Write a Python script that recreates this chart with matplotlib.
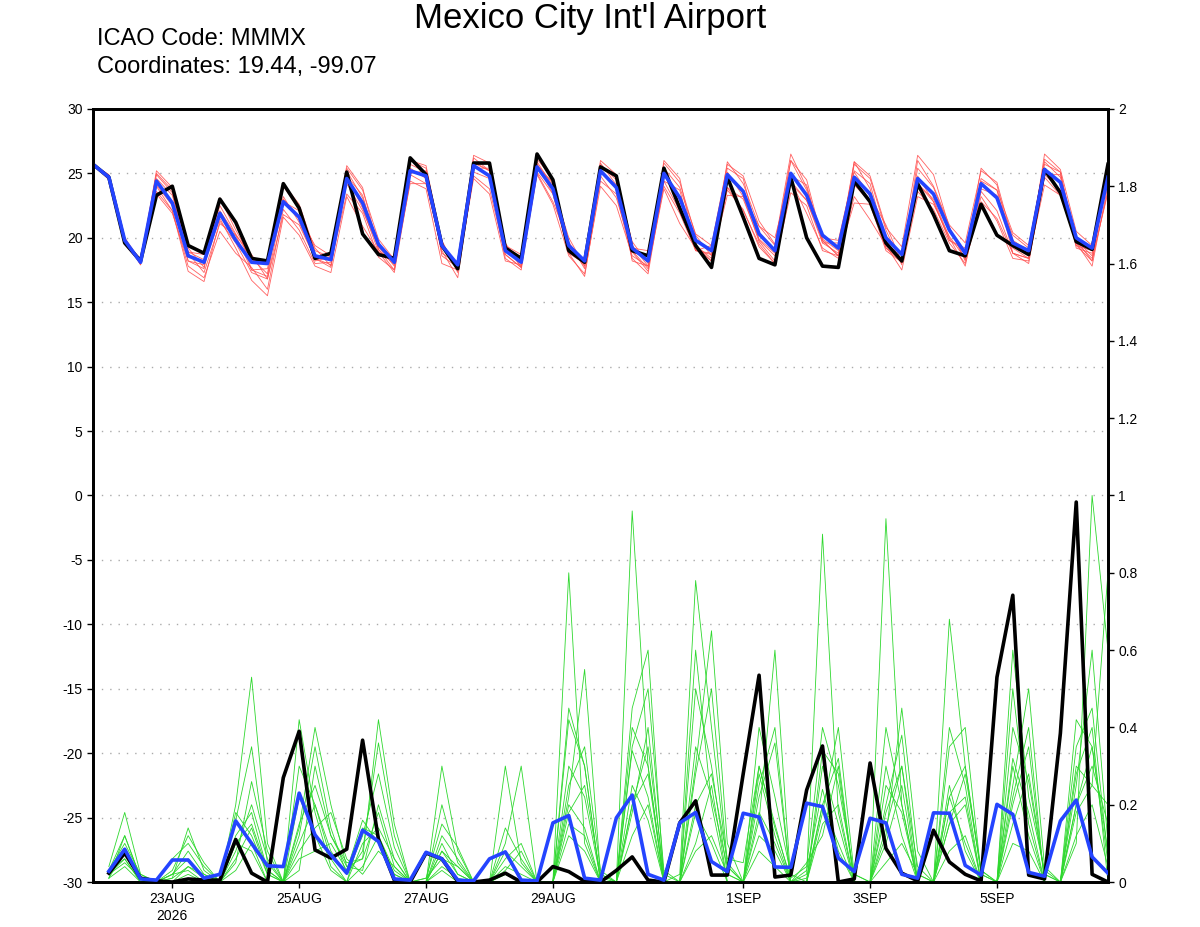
"""Ensemble meteogram: 2 m temperature and precipitation, Mexico City Int'l Airport."""

import matplotlib

matplotlib.use("Agg")
import matplotlib.pyplot as plt
import numpy as np
import pandas as pd

plt.rcParams["font.family"] = ["Liberation Sans", "DejaVu Sans"]
plt.rcParams["axes.unicode_minus"] = False

TIMES = pd.date_range("2026-08-21 18:00", periods=65, freq="6h")

# control run and ensemble mean, 2 m temperature (C)
temp_control = [
    25.7, 24.7, 19.6, 18.2, 23.3, 24.0, 19.4, 18.8, 23.0, 21.2, 18.4, 18.2, 24.2,
    22.3, 18.4, 18.8, 25.1, 20.3, 18.7, 18.4, 26.2, 24.9, 19.4, 17.6, 25.8, 25.8,
    19.2, 18.4, 26.5, 24.5, 19.0, 18.1, 25.5, 24.8, 19.0, 18.6, 25.4, 22.3, 19.4,
    17.7, 24.7, 21.6, 18.4, 17.9, 24.7, 20.0, 17.8, 17.7, 24.4, 22.8, 19.6, 18.2,
    24.2, 21.8, 19.0, 18.6, 22.6, 20.2, 19.4, 18.7, 25.3, 23.5, 19.7, 19.1, 25.7,
]
temp_mean = [
    25.7, 24.7, 19.8, 18.1, 24.4, 22.7, 18.6, 18.1, 21.9, 19.8, 18.1, 18.0, 22.8,
    21.6, 18.6, 18.3, 24.6, 22.7, 19.5, 18.1, 25.2, 24.8, 19.4, 17.9, 25.6, 24.8,
    19.0, 18.1, 25.5, 23.8, 19.4, 18.2, 25.2, 23.9, 19.2, 18.2, 25.0, 23.1, 19.8,
    19.0, 24.9, 23.6, 20.3, 19.0, 25.0, 23.3, 20.2, 19.2, 24.7, 23.4, 20.0, 18.7,
    24.6, 23.4, 20.6, 18.8, 24.2, 23.1, 19.6, 19.0, 25.3, 24.3, 20.0, 19.2, 24.7,
]

# member departures from the ensemble mean, tenths of a degree
temp_dev = [
    [0, 2, -2, 3, 5, 8, -4, -5, 10, 15, -6, -10, 12, 6, -4, 2, 6, 4, -2, 3, 5, 3, -6, 1,
     8, 10, 4, 3, 6, 8, -3, -2, 4, 6, 5, -2, 10, 15, -8, 4, 8, 12, 10, 5, 15, 6, -3, -2,
     12, 14, 8, 6, 18, 15, 2, -5, 12, 10, -4, -6, 12, 10, 5, 2, 10],
    [1, -1, 1, -2, -4, -6, -8, -12, -14, -10, -4, -20, -6, -10, -6, -2, -12, -8, -10, -6,
     -3, -6, 2, -4, -8, -10, -3, -4, -5, -10, 3, -6, -4, -8, -2, -6, -12, -20, -6, -8,
     -10, -15, -8, -10, -6, -14, -10, -8, -15, -20, -6, -12, -14, -8, -5, -4, -10, -18,
     -12, -8, -6, -10, -4, -8, -12],
    [-1, 1, 2, 1, 6, 10, 3, 2, 6, 5, 2, 1, 2, 0, 8, 3, 8, 10, 4, 2, 8, 6, -2, 0, 3, 4, 2,
     -3, 4, 2, 6, -4, 6, 2, 0, 8, 4, 8, 5, 4, 5, 10, -5, -4, 10, 4, -2, 6, 5, 8, -3, -6,
     8, 5, 2, -6, 4, 6, 8, 4, 6, 4, -2, -6, 4],
    [0, -2, -3, -1, -8, -6, -12, -15, -6, -2, -8, -12, -10, -6, -2, -4, -4, -6, -2, -3,
     -10, -6, -4, -10, -5, -2, -6, -6, -4, -4, -6, -12, -8, -5, -8, -10, -6, -10, -4, -6,
     -16, -4, -6, -8, -8, -4, -6, -4, -6, -6, -8, -6, -4, -4, -6, -10, -6, -10, -8, -6,
     -4, -6, -6, -10, -10],
    [0, 1, 1, 0, 8, 12, 6, -4, 12, 8, 3, -8, 14, 10, 4, 2, 10, 12, -4, -2, 8, 8, 2, -2,
     6, 4, 4, 6, 2, -4, -4, -2, 8, 10, -3, -8, 8, 12, 4, -4, 10, 6, 6, 4, 10, 12, -4, -6,
     10, 12, 6, -8, 14, 6, 4, 8, 10, 12, 2, 0, 8, 8, -8, -4, 8],
    [0, -1, -1, 2, -10, -8, -4, -2, -4, -6, -14, -25, -12, -14, -8, -10, -14, -18, -6,
     -8, -8, -10, -14, -4, -10, -14, -8, -2, -6, -12, -8, -10, -12, -14, -6, -4, -10, -12,
     -8, -3, -12, -14, -10, -10, -15, -8, -12, -6, -20, -8, -10, -6, -10, -12, -10, -8,
     -14, -16, -8, -6, -12, -10, -4, -14, -6],
    [0, 0, -2, 1, 2, 6, 3, 6, 2, 4, -6, -4, 4, -4, -2, -6, 2, -4, -6, 0, 2, -2, 4, -6, 2,
     4, 6, -4, -2, 6, -6, -2, 4, 8, -10, -4, -6, 6, -8, -2, 2, -4, 6, 10, -2, 8, -6, 4, 4,
     -2, 10, -6, -4, -6, -8, 4, -4, 2, 6, 2, 4, 8, -6, -2, 6],
    [0, 1, 2, -2, -3, -2, 2, -8, -8, 4, 6, -12, 0, 5, 6, -5, 2, 6, -4, -6, -2, 4, -8, -2,
     -2, 6, -3, -4, 2, 4, -2, -4, 2, 10, 2, -4, 0, -2, -4, -8, -10, -6, -4, -2, -6, -4, -4,
     -6, 12, 4, -8, -4, 2, -6, -8, 2, 2, 6, -8, -10, -4, 6, -2, -10, 2],
]

# 6-hourly precipitation (in), starts one step after the first time
precip_control = [
    0.023, 0.075, 0.010, 0.003, 0.0, 0.008, 0.005, 0.005, 0.110, 0.023, 0.0, 0.270,
    0.390, 0.083, 0.062, 0.085, 0.367, 0.110, 0.005, 0.0, 0.075, 0.060, 0.002, 0.0,
    0.005, 0.023, 0.0, 0.0, 0.040, 0.027, 0.002, 0.0, 0.030, 0.065, 0.005, 0.0, 0.153,
    0.210, 0.018, 0.018, 0.280, 0.535, 0.013, 0.018, 0.238, 0.352, 0.0, 0.008, 0.308,
    0.087, 0.023, 0.003, 0.134, 0.052, 0.020, 0.003, 0.530, 0.742, 0.018, 0.008, 0.385,
    0.983, 0.020, 0.0,
]
precip_mean = [
    0.028, 0.085, 0.008, 0.005, 0.057, 0.057, 0.010, 0.020, 0.158, 0.100, 0.042, 0.040,
    0.230, 0.122, 0.070, 0.023, 0.134, 0.105, 0.008, 0.005, 0.077, 0.060, 0.005, 0.003,
    0.060, 0.078, 0.005, 0.003, 0.153, 0.172, 0.010, 0.005, 0.166, 0.225, 0.020, 0.005,
    0.153, 0.180, 0.053, 0.027, 0.178, 0.168, 0.039, 0.038, 0.204, 0.195, 0.062, 0.027,
    0.165, 0.153, 0.020, 0.010, 0.179, 0.178, 0.043, 0.018, 0.201, 0.175, 0.025, 0.015,
    0.158, 0.212, 0.065, 0.023,
]

# member precipitation, hundredths of an inch
precip_members = [
    [3, 12, 1, 0, 2, 6, 1, 0, 16, 35, 5, 0, 10, 20, 8, 2, 12, 28, 9, 0, 1, 6, 4, 0,
     0, 4, 2, 0, 0, 30, 22, 1, 0, 35, 50, 3, 0, 20, 28, 6, 5, 30, 14, 1, 4, 40, 25, 2,
     0, 12, 45, 8, 0, 22, 30, 3, 0, 15, 28, 2, 0, 25, 60, 10],
    [2, 6, 0, 0, 0, 2, 0, 0, 6, 14, 2, 0, 3, 30, 12, 5, 6, 42, 15, 0, 0, 10, 2, 0,
     0, 2, 0, 0, 0, 80, 10, 0, 0, 12, 20, 0, 0, 8, 12, 2, 0, 8, 4, 0, 2, 90, 18, 0,
     0, 5, 10, 2, 0, 8, 12, 0, 0, 30, 12, 0, 0, 10, 100, 60],
    [4, 18, 2, 0, 1, 4, 2, 0, 10, 8, 0, 0, 42, 18, 4, 0, 4, 12, 3, 0, 0, 30, 8, 0,
     0, 2, 0, 0, 0, 20, 14, 0, 0, 96, 30, 0, 0, 60, 20, 0, 0, 12, 8, 0, 0, 15, 20, 0,
     0, 94, 20, 0, 0, 25, 8, 0, 0, 10, 8, 0, 0, 12, 20, 4],
    [1, 8, 0, 0, 6, 10, 4, 0, 20, 53, 10, 0, 15, 25, 12, 4, 3, 20, 6, 0, 0, 8, 2, 0,
     0, 10, 30, 0, 0, 45, 30, 0, 0, 45, 60, 0, 2, 78, 40, 4, 0, 18, 10, 0, 0, 30, 15, 0,
     0, 40, 20, 0, 0, 35, 40, 2, 0, 50, 15, 0, 0, 35, 45, 6],
    [2, 5, 1, 0, 0, 0, 0, 0, 3, 10, 0, 0, 8, 14, 18, 6, 2, 8, 4, 0, 0, 4, 1, 0,
     0, 0, 0, 0, 0, 12, 8, 0, 0, 20, 28, 0, 0, 30, 65, 10, 0, 40, 22, 2, 0, 20, 32, 0,
     0, 18, 30, 4, 0, 68, 30, 2, 0, 22, 40, 0, 0, 20, 30, 15],
    [3, 10, 2, 0, 3, 12, 5, 0, 12, 18, 3, 0, 22, 12, 3, 0, 10, 14, 6, 0, 1, 15, 9, 0,
     0, 30, 5, 0, 0, 18, 25, 2, 0, 25, 16, 0, 0, 10, 25, 0, 0, 22, 36, 0, 3, 24, 8, 0,
     0, 30, 12, 0, 0, 18, 22, 0, 0, 60, 22, 3, 0, 18, 25, 80],
    [1, 4, 0, 0, 2, 8, 2, 0, 8, 20, 6, 0, 6, 8, 10, 3, 16, 10, 2, 0, 0, 3, 0, 0,
     0, 6, 10, 0, 0, 25, 35, 3, 0, 20, 35, 2, 0, 18, 10, 0, 0, 30, 15, 0, 5, 12, 30, 0,
     0, 20, 38, 2, 0, 15, 28, 3, 0, 25, 50, 4, 0, 42, 35, 5],
    [2, 8, 1, 0, 1, 14, 3, 0, 18, 12, 2, 0, 12, 35, 14, 2, 8, 36, 12, 0, 0, 12, 6, 0,
     0, 14, 6, 0, 0, 42, 30, 0, 0, 34, 22, 0, 0, 28, 50, 5, 0, 25, 40, 0, 1, 20, 10, 0,
     0, 10, 25, 0, 0, 15, 20, 0, 0, 32, 18, 0, 0, 20, 35, 8],
    [3, 6, 0, 0, 0, 4, 1, 0, 5, 26, 8, 0, 30, 20, 6, 0, 14, 12, 2, 0, 0, 8, 4, 0,
     0, 8, 4, 0, 0, 22, 55, 2, 0, 40, 30, 0, 0, 35, 22, 4, 0, 16, 60, 0, 0, 34, 28, 0,
     0, 25, 18, 0, 0, 22, 10, 0, 0, 40, 26, 2, 0, 28, 40, 0],
    [1, 12, 1, 0, 2, 3, 0, 0, 10, 15, 3, 0, 14, 40, 20, 4, 6, 18, 4, 0, 0, 20, 5, 0,
     0, 3, 8, 0, 0, 15, 12, 0, 0, 18, 40, 0, 0, 50, 30, 2, 0, 28, 12, 0, 0, 18, 40, 2,
     0, 14, 30, 0, 0, 40, 25, 0, 0, 20, 35, 0, 0, 30, 25, 20],
]

TICK_DAYS = ["2026-08-23", "2026-08-25", "2026-08-27", "2026-08-29",
             "2026-09-01", "2026-09-03", "2026-09-05"]
TICK_LABELS = ["23AUG\n2026", "25AUG", "27AUG", "29AUG", "1SEP", "3SEP", "5SEP"]

fig = plt.figure(figsize=(12, 9.27), dpi=100)
ax = fig.add_axes([0.0775, 0.0485, 0.8458, 0.834])
ax2 = ax.twinx()

mean_t = np.array(temp_mean)
for dev in temp_dev:
    ax.plot(TIMES, mean_t + np.array(dev) / 10.0, color="#ff5050", lw=0.6, alpha=0.9)

ptimes = TIMES[1:]
for mem in precip_members:
    ax2.plot(ptimes, np.array(mem) / 100.0, color="#2ed82e", lw=0.6)

ax.plot(TIMES, temp_control, color="black", lw=2.6, zorder=5)
ax.plot(TIMES, temp_mean, color="#2444ff", lw=2.6, zorder=6)
ax2.plot(ptimes, precip_control, color="black", lw=2.6, zorder=5)
ax2.plot(ptimes, precip_mean, color="#2444ff", lw=2.6, zorder=6)

ax.set_ylim(-30, 30)
ax.set_yticks(range(-30, 31, 5))
ax2.set_ylim(0, 2)
ax2.set_yticks(np.arange(0, 2.01, 0.2))
ax2.set_yticklabels(["0"] + [f"{v:.1f}".rstrip("0").rstrip(".") for v in np.arange(0.2, 2.01, 0.2)])
ax.set_xlim(TIMES[0], TIMES[-1])
ax.set_xticks(pd.to_datetime(TICK_DAYS))
ax.set_xticklabels(TICK_LABELS)

for y in range(-25, 30, 5):
    ax.axhline(y, color="#aaaaaa", lw=1, ls=(0, (1, 5)), zorder=0)

for a in (ax, ax2):
    for side in a.spines.values():
        side.set_linewidth(2)
    a.tick_params(labelsize=10, length=4, width=1)

fig.text(0.492, 0.98, "Mexico City Int'l Airport", ha="center", va="center", fontsize=25)
fig.text(0.081, 0.958, "ICAO Code: MMMX", ha="left", va="center", fontsize=17)
fig.text(0.081, 0.928, "Coordinates: 19.44, -99.07", ha="left", va="center", fontsize=17)

fig.savefig("out.png", dpi=100)
